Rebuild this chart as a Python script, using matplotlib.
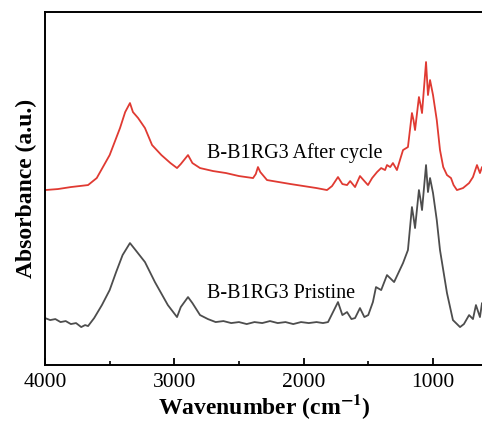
#!/usr/bin/env python3
"""FTIR spectra of B-B1RG3 before and after cycling."""

import matplotlib

matplotlib.use("Agg")
import matplotlib.pyplot as plt
from matplotlib.ticker import MultipleLocator, NullLocator

plt.rcParams["font.family"] = ["Liberation Serif", "DejaVu Serif"]
plt.rcParams["mathtext.fontset"] = "stix"

# wavenumber (cm-1) / offset absorbance
after_wn = [
    4000, 3900, 3800, 3667, 3600, 3500, 3420, 3380, 3343, 3320, 3280, 3227,
    3172, 3100, 3030, 2979, 2950, 2894, 2860, 2801, 2700, 2600, 2500, 2391,
    2370, 2353, 2335, 2283, 2100, 1900, 1819, 1780, 1734, 1700, 1664, 1640,
    1602, 1564, 1530, 1502, 1470, 1432, 1400, 1370, 1355, 1330, 1309, 1278,
    1250, 1231, 1193, 1162, 1150, 1138, 1108, 1095, 1084, 1053, 1038, 1022,
    999, 970, 945, 920, 891, 860, 840, 814, 767, 720, 690, 659, 636, 620, 600,
]
after_abs = [
    1.75, 1.76, 1.78, 1.80, 1.87, 2.10, 2.37, 2.53, 2.62, 2.53, 2.47, 2.37,
    2.20, 2.10, 2.02, 1.97, 2.01, 2.10, 2.02, 1.97, 1.94, 1.92, 1.89, 1.87,
    1.91, 1.98, 1.93, 1.85, 1.81, 1.77, 1.75, 1.79, 1.88, 1.81, 1.80, 1.84,
    1.78, 1.89, 1.84, 1.80, 1.87, 1.93, 1.97, 1.95, 2.00, 1.98, 2.02, 1.95,
    2.07, 2.15, 2.18, 2.52, 2.45, 2.35, 2.68, 2.60, 2.52, 3.03, 2.70, 2.85,
    2.70, 2.45, 2.15, 1.98, 1.90, 1.87, 1.80, 1.75, 1.77, 1.82, 1.88, 2.00,
    1.92, 1.98, 1.95,
]

pristine_wn = [
    4000, 3960, 3920, 3880, 3840, 3800, 3760, 3720, 3690, 3667, 3620, 3560,
    3500, 3450, 3400, 3343, 3300, 3227, 3150, 3050, 2979, 2950, 2894, 2860,
    2801, 2740, 2680, 2620, 2560, 2500, 2440, 2380, 2320, 2260, 2200, 2140,
    2080, 2020, 1960, 1900, 1850, 1811, 1734, 1700, 1664, 1630, 1602, 1564,
    1530, 1500, 1464, 1440, 1400, 1355, 1300, 1231, 1193, 1162, 1150, 1138,
    1108, 1095, 1084, 1053, 1038, 1022, 999, 970, 945, 891, 845, 790, 760,
    720, 690, 667, 636, 620, 600,
]
pristine_abs = [
    0.47, 0.45, 0.46, 0.43, 0.44, 0.41, 0.42, 0.38, 0.40, 0.39, 0.47, 0.60,
    0.75, 0.93, 1.10, 1.22, 1.15, 1.03, 0.83, 0.60, 0.48, 0.58, 0.68, 0.62,
    0.50, 0.46, 0.43, 0.44, 0.42, 0.43, 0.41, 0.43, 0.42, 0.44, 0.42, 0.43,
    0.41, 0.43, 0.42, 0.43, 0.42, 0.43, 0.63, 0.50, 0.53, 0.46, 0.47, 0.57,
    0.48, 0.50, 0.63, 0.78, 0.75, 0.90, 0.83, 1.02, 1.15, 1.58, 1.48, 1.37,
    1.75, 1.65, 1.55, 2.00, 1.73, 1.87, 1.72, 1.45, 1.15, 0.72, 0.45, 0.38,
    0.41, 0.50, 0.46, 0.60, 0.48, 0.62, 0.55,
]

labels = ["B-B1RG3 After cycle", "B-B1RG3 Pristine"]
label_pos = [(2747, 2.12), (2747, 0.72)]

fig = plt.figure(figsize=(4.82, 4.30), dpi=100)
ax = fig.add_axes([0.0934, 0.151, 0.912, 0.821])

ax.plot(after_wn, after_abs, color="#e03a32", lw=1.3)
ax.plot(pristine_wn, pristine_abs, color="#4d4d4d", lw=1.3)

for text, (x, y) in zip(labels, label_pos):
    ax.text(x, y, text, fontsize=14.5, va="center", ha="left")

ax.set_xlim(4000, 600)
ax.set_ylim(0, 3.53)
ax.xaxis.set_major_locator(MultipleLocator(1000))
ax.xaxis.set_minor_locator(MultipleLocator(500))
ax.yaxis.set_major_locator(NullLocator())
ax.tick_params(axis="x", which="major", direction="in", length=5, width=1.3,
               labelsize=15.5, pad=6)
ax.tick_params(axis="x", which="minor", direction="in", length=3, width=1.2)
for spine in ax.spines.values():
    spine.set_linewidth(1.4)

ax.set_xlabel("Wavenumber (cm$^{\\mathbf{-1}}$)", fontsize=17, fontweight="bold",
              labelpad=0)
ax.set_ylabel("Absorbance (a.u.)", fontsize=17, fontweight="bold", labelpad=6)

fig.savefig("out.png", dpi=100)
